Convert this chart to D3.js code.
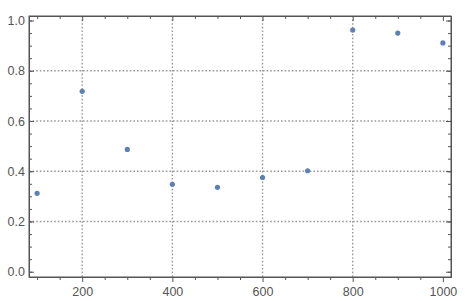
<!DOCTYPE html>
<html>
<head>
<meta charset="utf-8">
<script src="https://cdn.jsdelivr.net/npm/d3@7"></script>
<style>
  body { margin: 0; background: #fff; }
  text { font-family: "Liberation Sans", Arial, sans-serif; }
</style>
</head>
<body>
<svg class="scatter" width="468" height="301"></svg>
<script>
// data
var xValues = [100, 200, 300, 400, 500, 600, 700, 800, 900, 1000];
var yValues = [0.312, 0.718, 0.487, 0.348, 0.336, 0.375, 0.402, 0.962, 0.950, 0.911];
var xTicks = [200, 400, 600, 800, 1000];
var yTicks = [0, 0.2, 0.4, 0.6, 0.8, 1.0];
var xGrid = [200, 400, 600, 800];
var yGrid = [0.2, 0.4, 0.6, 0.8];

(function scatterIIFE() {
    var svg = d3.select("svg.scatter"),
        margin = {top: 16, right: 17, bottom: 24, left: 29},
        width = +svg.attr("width") - margin.left - margin.right,
        height = +svg.attr("height") - margin.top - margin.bottom,
        g = svg.append("g").attr("transform", "translate(" + margin.left + "," + margin.top + ")");

    var x = d3.scaleLinear().domain([82, 1018]).range([0, width]);
    var y = d3.scaleLinear().domain([-0.021, 1.018]).range([height, 0]);

    var frameColour = "#555";
    var minorX = d3.range(100, 1001, 50).filter(function(v) { return v % 200; });
    var minorY = d3.range(0, 1.001, 0.05);

    // grid
    g.selectAll(".vgrid").data(xGrid).enter().append("line")
        .attr("x1", function(d) { return x(d); }).attr("x2", function(d) { return x(d); })
        .attr("y1", 0).attr("y2", height)
        .attr("stroke", "#999").attr("stroke-width", 1.4)
        .attr("stroke-dasharray", "1.6,2");
    g.selectAll(".hgrid").data(yGrid).enter().append("line")
        .attr("y1", function(d) { return y(d); }).attr("y2", function(d) { return y(d); })
        .attr("x1", 0).attr("x2", width)
        .attr("stroke", "#999").attr("stroke-width", 1.4)
        .attr("stroke-dasharray", "1.6,2");

    // frame axes
    function styleAxis(sel) {
        sel.select(".domain").attr("stroke", frameColour);
        sel.selectAll(".tick line").attr("stroke", frameColour);
        sel.selectAll("text").attr("fill", "#555").style("font-size", "12.5px");
    }

    g.append("g").attr("transform", "translate(0," + height + ")")
        .call(d3.axisBottom(x).tickValues(xTicks).tickSize(5).tickSizeOuter(0).tickPadding(5).tickFormat(d3.format("d")))
        .call(styleAxis);
    g.append("g").attr("transform", "translate(0," + height + ")")
        .call(d3.axisBottom(x).tickValues(minorX).tickSize(3).tickSizeOuter(0).tickFormat(""))
        .call(styleAxis);
    g.append("g")
        .call(d3.axisTop(x).tickValues(xTicks).tickSize(-5).tickSizeOuter(0).tickFormat(""))
        .call(styleAxis);
    g.append("g")
        .call(d3.axisTop(x).tickValues(minorX).tickSize(-3).tickSizeOuter(0).tickFormat(""))
        .call(styleAxis);

    g.append("g")
        .call(d3.axisLeft(y).tickValues(yTicks).tickSize(-5).tickSizeOuter(0).tickPadding(4).tickFormat(d3.format(".1f")))
        .call(styleAxis);
    g.append("g")
        .call(d3.axisLeft(y).tickValues(minorY).tickSize(-3).tickSizeOuter(0).tickFormat(""))
        .call(styleAxis);
    g.append("g").attr("transform", "translate(" + width + ",0)")
        .call(d3.axisRight(y).tickValues(yTicks).tickSize(-5).tickSizeOuter(0).tickFormat(""))
        .call(styleAxis);
    g.append("g").attr("transform", "translate(" + width + ",0)")
        .call(d3.axisRight(y).tickValues(minorY).tickSize(-3).tickSizeOuter(0).tickFormat(""))
        .call(styleAxis);

    g.append("rect")
        .attr("width", width).attr("height", height)
        .attr("fill", "none").attr("stroke", frameColour).attr("stroke-width", 1);

    // points
    g.selectAll(".pt").data(xValues).enter().append("circle")
        .attr("class", "pt")
        .attr("cx", function(d) { return x(d); })
        .attr("cy", function(d, i) { return y(yValues[i]); })
        .attr("r", 2.6)
        .attr("fill", "#5e81b5");
})();
</script>
</body>
</html>
